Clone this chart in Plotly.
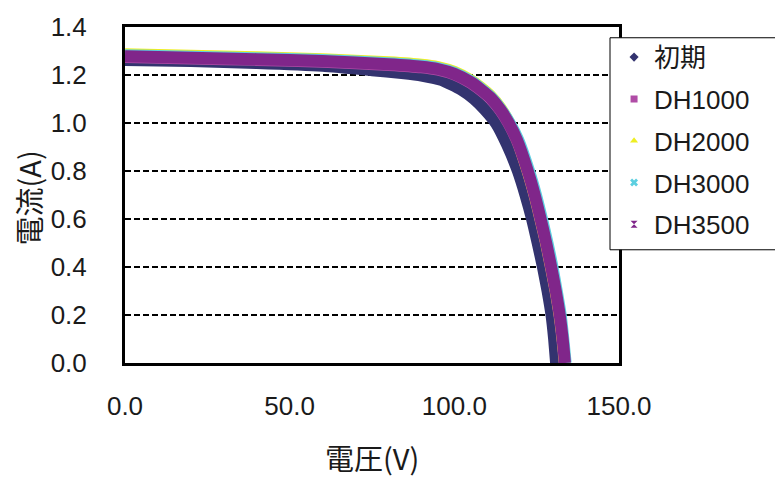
import plotly.graph_objects as go

# I-V characteristics after damp-heat (DH) exposure
series_names = ["初期", "DH1000", "DH2000", "DH3000", "DH3500"]

v_init = [0, 20, 40, 60, 75, 84, 90, 96, 102, 106, 109.3, 112.7, 116, 119.3,
          121.6, 123.6, 125.3, 126.9, 128.3, 129.5, 130.3, 130.9]
i_init = [1.262, 1.258, 1.250, 1.238, 1.220, 1.208, 1.198, 1.180, 1.140, 1.100,
          1.055, 0.998, 0.910, 0.800, 0.700, 0.600, 0.500, 0.400, 0.300, 0.200,
          0.100, 0.0]

v_dh1000 = [0, 20, 40, 60, 80, 90, 95, 100, 105, 108, 111, 114, 116.5, 119,
            122.2, 124.3, 126.1, 127.8, 129.3, 130.7, 131.9, 132.8, 133.5]
i_dh1000 = [1.275, 1.269, 1.263, 1.255, 1.242, 1.232, 1.222, 1.202, 1.167, 1.137,
            1.102, 1.052, 0.997, 0.927, 0.800, 0.700, 0.600, 0.500, 0.400, 0.300,
            0.200, 0.100, 0.0]

v_dh2000 = [0, 20, 40, 60, 80, 90, 95, 100, 105, 108, 111, 114, 116.5, 119,
            122.3, 124.4, 126.2, 127.9, 129.4, 130.8, 132.0, 132.9, 133.6]
i_dh2000 = [1.286, 1.280, 1.274, 1.266, 1.253, 1.243, 1.233, 1.213, 1.178, 1.148,
            1.113, 1.063, 1.005, 0.935, 0.800, 0.700, 0.600, 0.500, 0.400, 0.300,
            0.200, 0.100, 0.0]

v_dh3000 = [0, 20, 40, 60, 80, 90, 95, 100, 105, 108, 111, 114, 116.8, 119.4,
            122.7, 124.8, 126.6, 128.3, 129.8, 131.1, 132.3, 133.1, 133.8]
i_dh3000 = [1.282, 1.276, 1.270, 1.262, 1.249, 1.239, 1.229, 1.209, 1.174, 1.144,
            1.109, 1.059, 1.000, 0.930, 0.800, 0.700, 0.600, 0.500, 0.400, 0.300,
            0.200, 0.100, 0.0]

v_dh3500 = [0, 20, 40, 60, 80, 90, 95, 100, 105, 108, 111, 114, 116.5, 119,
            122.3, 124.4, 126.2, 127.9, 129.4, 130.8, 132.0, 132.9, 133.6]
i_dh3500 = [1.278, 1.272, 1.266, 1.258, 1.245, 1.235, 1.225, 1.205, 1.170, 1.140,
            1.105, 1.055, 1.000, 0.930, 0.800, 0.700, 0.600, 0.500, 0.400, 0.300,
            0.200, 0.100, 0.0]

x_ticks = [0, 50, 100, 150]
y_ticks = [0.0, 0.2, 0.4, 0.6, 0.8, 1.0, 1.2, 1.4]

voltages = [v_init, v_dh1000, v_dh2000, v_dh3000, v_dh3500]
currents = [i_init, i_dh1000, i_dh2000, i_dh3000, i_dh3500]
colors = ["#33336f", "#b04ca6", "#eeee22", "#5ccfe0", "#80268a"]
symbols = ["diamond", "square", "triangle-up", "x", "hourglass"]

FONT = "Liberation Sans, Arial, Noto Sans CJK JP, sans-serif"
CJK = "Noto Sans CJK JP, sans-serif"
TEXT_COLOR = "#1a1a1a"

fig = go.Figure()

# legend entries: marker-only traces (hidden beneath the thick bands)
for name, v, i, c, s in zip(series_names, voltages, currents, colors, symbols):
    fig.add_trace(go.Scatter(
        x=v, y=i, name=name, mode="markers", legendgroup=name,
        marker=dict(symbol=s, size=7, color=c, line=dict(width=0, color=c)),
        hoverinfo="skip",
    ))

# measured curves drawn as thick bands
for name, v, i, c in zip(series_names, voltages, currents, colors):
    fig.add_trace(go.Scatter(
        x=v, y=i, name=name, mode="lines", legendgroup=name, showlegend=False,
        line=dict(color=c, width=12, shape="spline", smoothing=0.5),
    ))

fig.update_layout(
    width=775, height=482,
    margin=dict(l=125, r=156, t=22, b=119),
    paper_bgcolor="white", plot_bgcolor="white",
    font=dict(family=FONT, size=26, color=TEXT_COLOR),
    showlegend=True,
    legend=dict(
        x=0.99, y=0.98, xanchor="left", yanchor="top",
        bgcolor="rgba(0,0,0,0)", borderwidth=0,
        font=dict(family=FONT, size=26, color=TEXT_COLOR),
        tracegroupgap=5, itemwidth=30,
    ),
    # legend panel, running off the right edge of the figure
    shapes=[
        dict(type="rect", xref="paper", yref="paper", layer="above",
             x0=0.9818, x1=1.35, y0=0.337, y1=0.968,
             fillcolor="white", line=dict(color="black", width=1)),
    ],
    xaxis=dict(
        range=[0, 150], tickvals=x_ticks, tickformat=".1f",
        showgrid=False, zeroline=False,
        showline=True, linecolor="black", linewidth=3, mirror=True,
        ticks="", ticklabelstandoff=18,
    ),
    yaxis=dict(
        range=[0, 1.4], tickvals=y_ticks, tickformat=".1f",
        showgrid=True, gridcolor="black", gridwidth=1.6, griddash="6px,3px",
        zeroline=False,
        showline=True, linecolor="black", linewidth=3, mirror=True,
        ticks="inside", ticklen=5, tickcolor="black", tickwidth=1.5,
        ticklabelstandoff=30,
    ),
    annotations=[
        dict(text="電圧(V)", xref="paper", yref="paper", x=0.5, y=-0.279,
             xanchor="center", yanchor="middle", showarrow=False,
             font=dict(family=CJK, size=29, color=TEXT_COLOR)),
        dict(text="電流(A)", xref="paper", yref="paper", x=-0.196, y=0.49,
             xanchor="center", yanchor="middle", showarrow=False, textangle=-90,
             font=dict(family=CJK, size=29, color=TEXT_COLOR)),
    ],
)

fig.write_html("out.html")
